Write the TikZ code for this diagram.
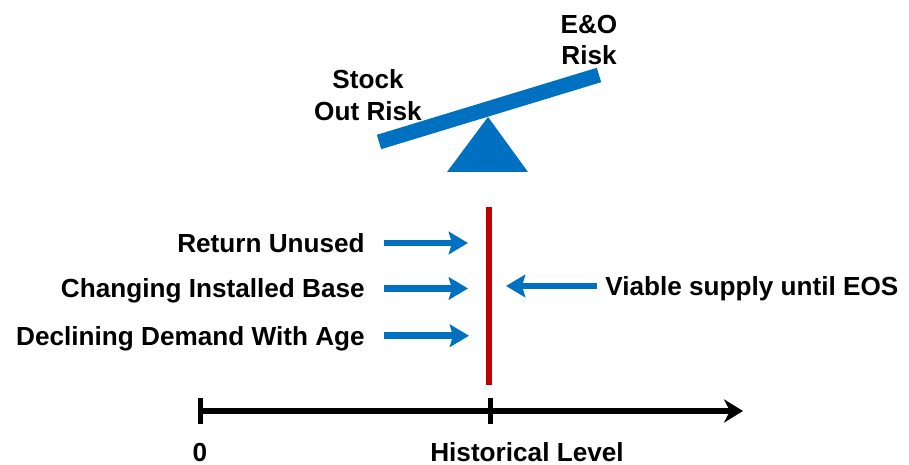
\documentclass[tikz,border=0pt]{standalone}
\usepackage{fontspec}
\setmainfont{Liberation Sans}
\usepackage{tikz}
\usetikzlibrary{arrows.meta, positioning, calc}
\definecolor{seeblue}{HTML}{0070C0}
\definecolor{limitred}{HTML}{C00000}

\begin{document}
\begin{tikzpicture}[
    x=0.025cm, y=-0.025cm,
    txt/.style={font=\bfseries\fontsize{18.6}{22.3}\selectfont, inner sep=0pt, text height=13.3pt, text depth=0pt},
    risk/.style={font=\bfseries\fontsize{18.6}{22.3}\selectfont, inner sep=0pt, align=center},
    push/.style={-{Stealth[length=0.48cm, width=0.56cm, inset=0.08cm]}, seeblue, line width=0.17cm},
    limit/.style={limitred, line width=0.15cm},
    axis/.style={-{Stealth[length=0.475cm, width=0.58cm, inset=0.15cm]}, black, line width=0.15cm},
    tick/.style={black, line width=0.125cm}
]
\useasboundingbox (0,0) rectangle (909,465);

% Seesaw
\coordinate (pivot) at (488,117);
\fill[seeblue] (pivot) -- (528,172) -- (447,172) -- cycle;
\draw[seeblue, line width=0.375cm] (379,142) -- (599,75);
\node[risk] (stockout) at (368,95) {Stock\\Out Risk};
\node[risk] (eorisk) at (589,40) {E\&O\\Risk};

% Limit line
\coordinate (limtop) at (489,207);
\coordinate (limbot) at (489,385);
\draw[limit] (limtop) -- (limbot);

% Drivers
\node[txt, anchor=east] (unused) at (365,243) {Return Unused};
\node[txt, below=0.655cm of unused.south east, anchor=north east] (base) {Changing Installed Base};
\node[txt, below=0.7cm of base.south east, anchor=north east] (decline) {Declining Demand With Age};
\node[txt, anchor=west] (viable) at (605,286) {Viable supply until EOS};

\draw[push, shorten >=0.525cm] ([xshift=0.475cm]unused.east) -- (unused.east -| limtop);
\draw[push, shorten >=0.525cm] ([xshift=0.475cm]base.east) -- (base.east -| limtop);
\draw[push, shorten >=0.5cm] ([xshift=0.475cm]decline.east) -- (decline.east -| limtop);
\draw[push, shorten >=0.425cm] ([xshift=-0.2cm]viable.west) -- (viable.west -| limtop);

% Axis
\coordinate (zero) at (200,411);
\coordinate (hist) at (490,411);
\coordinate (axend) at (743,411);
\draw[axis] (zero) -- (axend);
\draw[tick] ([yshift=0.325cm]zero) -- ([yshift=-0.325cm]zero);
\draw[tick] ([yshift=0.325cm]hist) -- ([yshift=-0.325cm]hist);
\node[txt, below=0.79cm of zero] (zerolbl) {0};
\node[txt, below=0.79cm of hist, xshift=0.925cm] (histlbl) {Historical Level};

\end{tikzpicture}
\end{document}
